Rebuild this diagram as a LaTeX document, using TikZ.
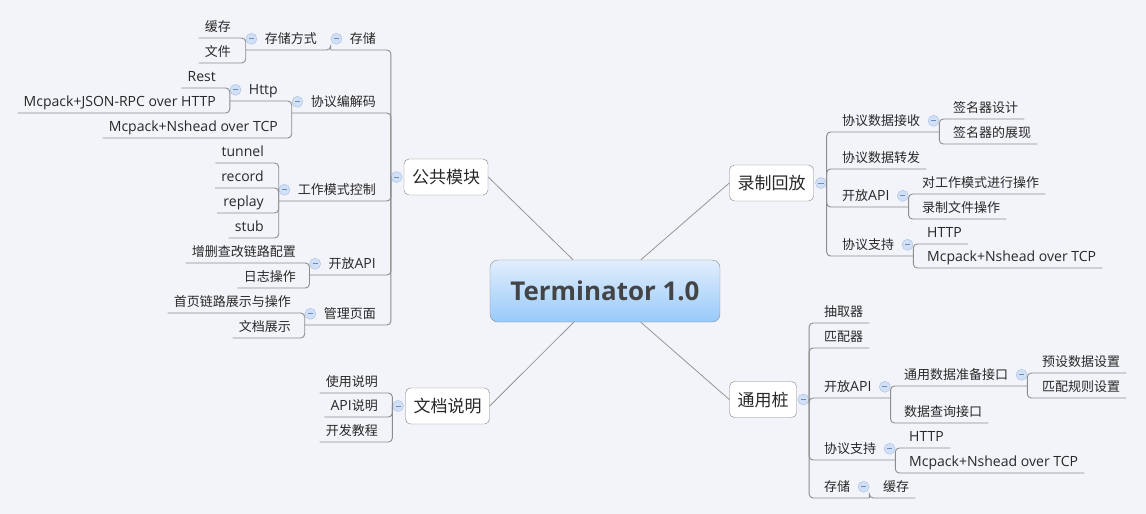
\documentclass[tikz,border=0pt]{standalone}
\usepackage{fontspec}
\setmainfont{Open Sans}[Scale=1.08]
\newfontfamily\cjk{Noto Sans CJK SC}
\usetikzlibrary{positioning}
\newcommand{\zh}[1]{{\cjk #1}}
\definecolor{canvas}{RGB}{243,244,249}
\definecolor{ink}{RGB}{40,40,40}
\definecolor{linkgray}{RGB}{140,140,140}
\definecolor{spokegray}{RGB}{150,150,150}
\definecolor{boxline}{RGB}{128,128,128}
\definecolor{rootline}{RGB}{130,140,155}
\definecolor{rootlight}{RGB}{226,238,253}
\definecolor{rootdark}{RGB}{152,202,250}
\definecolor{rootink}{RGB}{68,68,68}
\definecolor{foldfill}{RGB}{210,224,246}
\definecolor{foldline}{RGB}{164,190,230}
\definecolor{foldminus}{RGB}{110,140,195}
\tikzset{
    leaf/.style={inner xsep=6pt, inner ysep=4pt, text height=12pt, text depth=2pt,
        text=ink, font=\fontsize{13}{15}\selectfont},
    topic/.style={draw=boxline, fill=white, rounded corners=5pt, inner xsep=8pt,
        inner ysep=0pt, minimum height=36pt, text height=13pt, text depth=0pt,
        text=ink, font=\fontsize{17}{20}\selectfont\cjk},
    root/.style={draw=rootline, rounded corners=8pt, top color=rootlight,
        bottom color=rootdark, minimum width=230pt, minimum height=62pt,
        text=rootink, font=\fontsize{24}{28}\selectfont\bfseries},
    fold/.style={circle, draw=foldline, fill=foldfill, minimum size=11pt, inner sep=0pt,
        path picture={\draw[foldminus, line width=0.9pt]
            ([xshift=-2.6pt]path picture bounding box.center) --
            ([xshift=2.6pt]path picture bounding box.center);}},
    link/.style={draw=linkgray, line width=0.9pt, rounded corners=4pt},
    spoke/.style={draw=spokegray, line width=0.8pt},
}
\begin{document}
\begin{tikzpicture}[x=1pt,y=-1pt]
\fill[canvas] (0,0) rectangle (1146,514);
\useasboundingbox (0,0) rectangle (1146,514);

\node[root] (term) at (605,291) {Terminator 1.0};
\node[topic] (pub) at (446,177) {公共模块};
\node[topic] (rec) at (771.5,183) {录制回放};
\node[topic] (doc) at (447.5,406) {文档说明};
\node[topic] (stub) at (763,399.5) {通用桩};
\draw[spoke] (term) -- (pub.east);
\draw[spoke] (term) -- (rec.west);
\draw[spoke] (term) -- (doc.east);
\draw[spoke] (term) -- (stub.west);
\node[fold, left=1.5pt of pub] (pubf) {};
\node[fold, right=1.5pt of rec] (recf) {};
\node[fold, left=1.5pt of doc] (docf) {};
\node[fold, right=1pt of stub] (stubf) {};

\node[leaf, anchor=south east] (store) at (382,50) {\zh{存储}};
\node[leaf, anchor=south east] (mode) at (323,50) {\zh{存储方式}};
\node[leaf, anchor=south east] (cache) at (237,38) {\zh{缓存}};
\node[leaf, anchor=south east] (file) at (237,63) {\zh{文件}};
\node[leaf, anchor=south east] (codec) at (382,113) {\zh{协议编解码}};
\node[leaf, anchor=south east] (http) at (284,101) {Http};
\node[leaf, anchor=south east] (rest) at (222,88) {Rest};
\node[leaf, anchor=south east] (jsonrpc) at (222,113) {Mcpack+JSON-RPC over HTTP};
\node[leaf, anchor=south east] (tcp) at (284,138) {Mcpack+Nshead over TCP};
\node[leaf, anchor=south east] (work) at (382,201) {\zh{工作模式控制}};
\node[leaf, anchor=south east] (tunnel) at (270,163) {tunnel};
\node[leaf, anchor=south east] (record) at (270,188) {record};
\node[leaf, anchor=south east] (replay) at (270,213) {replay};
\node[leaf, anchor=south east] (stubmode) at (270,238) {stub};
\node[leaf, anchor=south east] (papi) at (382,275) {\zh{开放}API};
\node[leaf, anchor=south east] (crud) at (302,263) {\zh{增删查改链路配置}};
\node[leaf, anchor=south east] (log) at (302,288) {\zh{日志操作}};
\node[leaf, anchor=south east] (page) at (382,325) {\zh{管理页面}};
\node[leaf, anchor=south east] (home) at (297,313) {\zh{首页链路展示与操作}};
\node[leaf, anchor=south east] (docs) at (297,338) {\zh{文档展示}};
\node[fold, left=1.5pt of store] (storef) {};
\node[fold, left=1.5pt of mode] (modef) {};
\node[fold, left=1.5pt of codec] (codecf) {};
\node[fold, left=1.5pt of http] (httpf) {};
\node[fold, left=1.5pt of work] (workf) {};
\node[fold, left=1.5pt of papi] (papif) {};
\node[fold, left=1.5pt of page] (pagef) {};
\coordinate (store-j) at (storef.west |- store.south);
\coordinate (mode-j) at (modef.west |- mode.south);
\coordinate (codec-j) at (codecf.west |- codec.south);
\coordinate (http-j) at (httpf.west |- http.south);
\coordinate (work-j) at (workf.west |- work.south);
\coordinate (papi-j) at (papif.west |- papi.south);
\coordinate (page-j) at (pagef.west |- page.south);
\draw[link] (pubf.west) |- (store-j);
\draw[link] (pubf.west) |- (codec-j);
\draw[link] (pubf.west) |- (work-j);
\draw[link] (pubf.west) |- (papi-j);
\draw[link] (pubf.west) |- (page-j);
\draw[link] (store-j) |- (mode-j);
\draw[link] (mode-j) |- (cache.south west);
\draw[link] (mode-j) |- (file.south west);
\draw[link] (codec-j) |- (http-j);
\draw[link] (codec-j) |- (tcp.south west);
\draw[link] (http-j) |- (rest.south west);
\draw[link] (http-j) |- (jsonrpc.south west);
\draw[link] (work-j) |- (tunnel.south west);
\draw[link] (work-j) |- (record.south west);
\draw[link] (work-j) |- (replay.south west);
\draw[link] (work-j) |- (stubmode.south west);
\draw[link] (papi-j) |- (crud.south west);
\draw[link] (papi-j) |- (log.south west);
\draw[link] (page-j) |- (home.south west);
\draw[link] (page-j) |- (docs.south west);

\node[leaf, anchor=south east] (usage) at (384,393) {\zh{使用说明}};
\node[leaf, anchor=south east] (apidoc) at (384,417) {API\zh{说明}};
\node[leaf, anchor=south east] (guide) at (384,442) {\zh{开发教程}};
\draw[link] (docf.west) |- (usage.south west);
\draw[link] (docf.west) |- (apidoc.south west);
\draw[link] (docf.west) |- (guide.south west);

\node[leaf, anchor=south west] (recv) at (836,132) {\zh{协议数据接收}};
\node[leaf, anchor=south west] (sigd) at (947,119) {\zh{签名器设计}};
\node[leaf, anchor=south west] (sigs) at (947,144) {\zh{签名器的展现}};
\node[leaf, anchor=south west] (fwd) at (836,169) {\zh{协议数据转发}};
\node[leaf, anchor=south west] (rapi) at (836,207) {\zh{开放}API};
\node[leaf, anchor=south west] (opm) at (916,194) {\zh{对工作模式进行操作}};
\node[leaf, anchor=south west] (rfile) at (916,219) {\zh{录制文件操作}};
\node[leaf, anchor=south west] (rproto) at (836,256) {\zh{协议支持}};
\node[leaf, anchor=south west] (rhttp) at (921,244) {HTTP};
\node[leaf, anchor=south west] (rtcp) at (921,268) {Mcpack+Nshead over TCP};
\node[fold, right=1.5pt of recv] (recvf) {};
\node[fold, right=1.5pt of rapi] (rapif) {};
\node[fold, right=1.5pt of rproto] (rprotof) {};
\coordinate (recv-j) at (recvf.east |- recv.south);
\coordinate (rapi-j) at (rapif.east |- rapi.south);
\coordinate (rproto-j) at (rprotof.east |- rproto.south);
\draw[link] (recf.east) |- (recv-j);
\draw[link] (recf.east) |- (fwd.south east);
\draw[link] (recf.east) |- (rapi-j);
\draw[link] (recf.east) |- (rproto-j);
\draw[link] (recv-j) |- (sigd.south east);
\draw[link] (recv-j) |- (sigs.south east);
\draw[link] (rapi-j) |- (opm.south east);
\draw[link] (rapi-j) |- (rfile.south east);
\draw[link] (rproto-j) |- (rhttp.south east);
\draw[link] (rproto-j) |- (rtcp.south east);

\node[leaf, anchor=south west] (ext) at (818,323) {\zh{抽取器}};
\node[leaf, anchor=south west] (mat) at (818,348) {\zh{匹配器}};
\node[leaf, anchor=south west] (sapi) at (818,398) {\zh{开放}API};
\node[leaf, anchor=south west] (prep) at (898,386) {\zh{通用数据准备接口}};
\node[leaf, anchor=south west] (preset) at (1036,373) {\zh{预设数据设置}};
\node[leaf, anchor=south west] (rule) at (1036,398) {\zh{匹配规则设置}};
\node[leaf, anchor=south west] (query) at (898,423) {\zh{数据查询接口}};
\node[leaf, anchor=south west] (sproto) at (818,460) {\zh{协议支持}};
\node[leaf, anchor=south west] (shttp) at (903,448) {HTTP};
\node[leaf, anchor=south west] (stcp) at (903,473) {Mcpack+Nshead over TCP};
\node[leaf, anchor=south west] (sstore) at (818,498) {\zh{存储}};
\node[leaf, anchor=south west] (scache) at (877,498) {\zh{缓存}};
\node[fold, right=1.5pt of sapi] (sapif) {};
\node[fold, right=1.5pt of prep] (prepf) {};
\node[fold, right=1.5pt of sproto] (sprotof) {};
\node[fold, right=1.5pt of sstore] (sstoref) {};
\coordinate (sapi-j) at (sapif.east |- sapi.south);
\coordinate (prep-j) at (prepf.east |- prep.south);
\coordinate (sproto-j) at (sprotof.east |- sproto.south);
\coordinate (sstore-j) at (sstoref.east |- sstore.south);
\draw[link] (stubf.east) |- (ext.south east);
\draw[link] (stubf.east) |- (mat.south east);
\draw[link] (stubf.east) |- (sapi-j);
\draw[link] (stubf.east) |- (sproto-j);
\draw[link] (stubf.east) |- (sstore-j);
\draw[link] (sapi-j) |- (prep-j);
\draw[link] (sapi-j) |- (query.south east);
\draw[link] (prep-j) |- (preset.south east);
\draw[link] (prep-j) |- (rule.south east);
\draw[link] (sproto-j) |- (shttp.south east);
\draw[link] (sproto-j) |- (stcp.south east);
\draw[link] (sstore-j) |- (scache.south east);
\end{tikzpicture}
\end{document}
